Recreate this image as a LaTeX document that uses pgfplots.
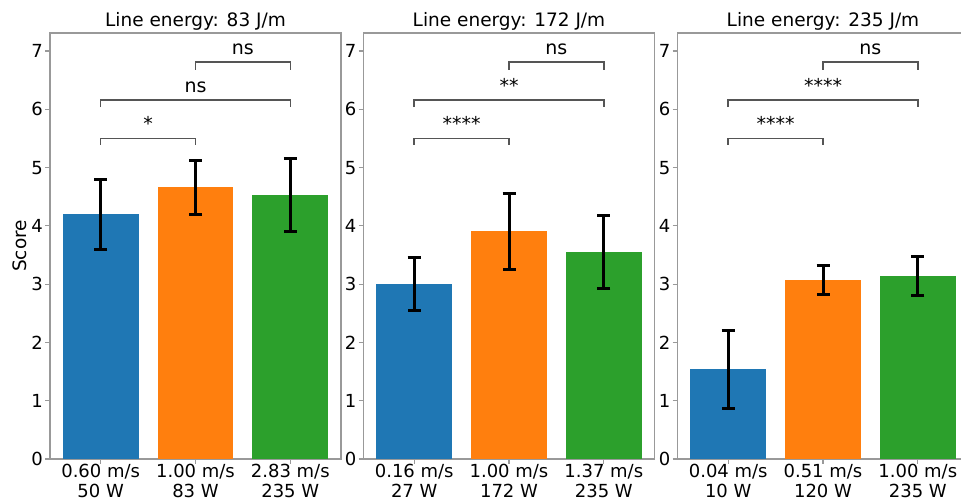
\documentclass[border=0pt]{standalone}
\usepackage{fontspec}
\setmainfont{DejaVu Sans}
\usepackage{pgfplots}
\pgfplotsset{compat=1.18}
\definecolor{tabblue}{HTML}{1F77B4}
\definecolor{taborange}{HTML}{FF7F0E}
\definecolor{tabgreen}{HTML}{2CA02C}
\definecolor{spine}{HTML}{999999}
\definecolor{brk}{HTML}{555555}
\tikzset{
  sig/.style={font=\fontsize{19}{20}\selectfont, anchor=base, yshift=8pt, inner sep=0pt},
}
\pgfplotsset{
  panel/.style={
    scale only axis, width=291pt, height=426pt,
    xmin=-0.535, xmax=2.535, ymin=0, ymax=7.31,
    axis line style={spine, line width=1.2pt},
    tick align=outside, tick pos=left,
    major tick length=5pt,
    every tick/.style={spine, line width=1.2pt},
    ytick={0,1,2,3,4,5,6,7}, xtick={0,1,2},
    tick label style={font=\fontsize{18}{20}\selectfont, black},
    /pgf/number format/assume math mode=true,
    xticklabel style={align=center, inner sep=1pt, yshift=1pt},
    yticklabel style={inner sep=2pt},
    every axis title shift=0pt,
    title style={font=\fontsize{18.5}{20}\selectfont, at={(0.5,1)}, anchor=base, yshift=6pt, inner sep=0pt},
    clip=false,
  },
  mybar/.style={ybar, bar width=0.8, draw=none, fill=#1,
    error bars/.cd, y dir=both, y explicit,
    error bar style={line width=3pt, black},
    error mark options={black, line width=3pt, mark size=6.5pt, rotate=90}},
  mybracket/.style={brk, line width=1.5pt, mark=none},
}
\begin{document}
\begin{tikzpicture}
\path[use as bounding box] (0,0) rectangle (961pt,502pt);
% Panel 1
\begin{axis}[panel, at={(50pt,43pt)}, anchor=south west,
  title={Line energy: 83 J/m},
  ylabel={Score}, ylabel style={font=\fontsize{18.5}{20}\selectfont, at={(axis description cs:-0.103,0.5)}, anchor=center},
  xticklabels={{0.60 m/s\\50 W},{1.00 m/s\\83 W},{2.83 m/s\\235 W}}]
\addplot[mybar=tabblue] coordinates {(0,4.20) +- (0,0.60)};
\addplot[mybar=taborange] coordinates {(1,4.66) +- (0,0.47)};
\addplot[mybar=tabgreen] coordinates {(2,4.53) +- (0,0.62)};
\addplot[mybracket] coordinates {(0,5.39) (0,5.50) (1,5.50) (1,5.39)};
\addplot[mybracket] coordinates {(0,6.04) (0,6.16) (2,6.16) (2,6.04)};
\addplot[mybracket] coordinates {(1,6.68) (1,6.81) (2,6.81) (2,6.68)};
\node[sig] at (axis cs:0.5,5.50) {*};
\node[sig] at (axis cs:1.0,6.16) {ns};
\node[sig] at (axis cs:1.5,6.81) {ns};
\end{axis}
% Panel 2
\begin{axis}[panel, at={(363.5pt,43pt)}, anchor=south west,
  title={Line energy: 172 J/m},
  xticklabels={{0.16 m/s\\27 W},{1.00 m/s\\172 W},{1.37 m/s\\235 W}}]
\addplot[mybar=tabblue] coordinates {(0,3.00) +- (0,0.45)};
\addplot[mybar=taborange] coordinates {(1,3.91) +- (0,0.65)};
\addplot[mybar=tabgreen] coordinates {(2,3.545) +- (0,0.625)};
\addplot[mybracket] coordinates {(0,5.39) (0,5.50) (1,5.50) (1,5.39)};
\addplot[mybracket] coordinates {(0,6.04) (0,6.16) (2,6.16) (2,6.04)};
\addplot[mybracket] coordinates {(1,6.68) (1,6.81) (2,6.81) (2,6.68)};
\node[sig] at (axis cs:0.5,5.50) {****};
\node[sig] at (axis cs:1.0,6.16) {**};
\node[sig] at (axis cs:1.5,6.81) {ns};
\end{axis}
% Panel 3
\begin{axis}[panel, at={(677.5pt,43pt)}, anchor=south west,
  title={Line energy: 235 J/m},
  xticklabels={{0.04 m/s\\10 W},{0.51 m/s\\120 W},{1.00 m/s\\235 W}}]
\addplot[mybar=tabblue] coordinates {(0,1.54) +- (0,0.67)};
\addplot[mybar=taborange] coordinates {(1,3.07) +- (0,0.25)};
\addplot[mybar=tabgreen] coordinates {(2,3.14) +- (0,0.34)};
\addplot[mybracket] coordinates {(0,5.39) (0,5.50) (1,5.50) (1,5.39)};
\addplot[mybracket] coordinates {(0,6.04) (0,6.16) (2,6.16) (2,6.04)};
\addplot[mybracket] coordinates {(1,6.68) (1,6.81) (2,6.81) (2,6.68)};
\node[sig] at (axis cs:0.5,5.50) {****};
\node[sig] at (axis cs:1.0,6.16) {****};
\node[sig] at (axis cs:1.5,6.81) {ns};
\end{axis}
\end{tikzpicture}
\end{document}
